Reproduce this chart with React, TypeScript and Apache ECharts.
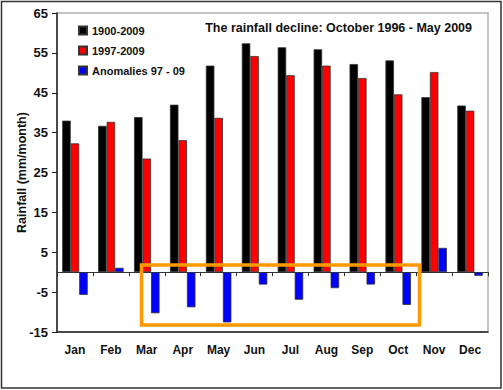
import React, { useEffect, useRef } from "react";
import * as echarts from "echarts";

const months = ["Jan", "Feb", "Mar", "Apr", "May", "Jun", "Jul", "Aug", "Sep", "Oct", "Nov", "Dec"];
const longTerm = [38.0, 36.7, 38.9, 42.0, 51.8, 57.4, 56.4, 55.9, 52.2, 53.1, 43.9, 41.8];
const recent = [32.3, 37.7, 28.5, 33.1, 38.7, 54.2, 49.4, 51.8, 48.7, 44.6, 50.2, 40.5];
const anomalies = [-5.7, 1.1, -10.3, -8.8, -12.6, -3.1, -6.9, -4.0, -3.1, -8.2, 6.1, -0.9];
const yTicks = { min: -15, max: 65, interval: 10 };
const seriesNames = ["1900-2009", "1997-2009", "Anomalies 97 - 09"];

const FONT = "Arial, 'Liberation Sans', sans-serif";

export default function App() {
  const ref = useRef<HTMLDivElement>(null);
  useEffect(() => {
    document.body.style.margin = "0";
    const chart = echarts.init(ref.current!, undefined, { renderer: "svg" });
    const barStyle = (color: string) => ({ color, borderColor: "#333", borderWidth: 0.8 });
    chart.setOption({
      animation: false,
      backgroundColor: "#fff",
      textStyle: { fontFamily: FONT },
      title: {
        text: "The rainfall decline: October 1996 - May 2009",
        right: 26,
        top: 16,
        textStyle: { fontSize: 12.5, fontWeight: "bold", color: "#111", fontFamily: FONT },
      },
      legend: {
        orient: "vertical",
        left: 73,
        top: 19,
        itemWidth: 8,
        itemHeight: 8,
        itemGap: 7,
        icon: "rect",
        data: seriesNames,
        textStyle: { fontSize: 11, fontWeight: "bold", color: "#111", fontFamily: FONT, lineHeight: 13 },
      },
      grid: {
        left: 57,
        top: 13,
        right: 15,
        bottom: 58,
        show: true,
        borderColor: "#b0b0b0",
        borderWidth: 1.5,
      },
      xAxis: [
        {
          type: "category",
          data: months,
          position: "bottom",
          axisLine: { onZero: false, lineStyle: { color: "#222", width: 1.5 } },
          axisTick: { show: false },
          axisLabel: { fontSize: 12, fontWeight: "bold", color: "#111", margin: 12, fontFamily: FONT },
        },
        {
          type: "category",
          data: months,
          position: "top",
          axisLine: { onZero: true, lineStyle: { color: "#333", width: 1 } },
          axisTick: { show: true, inside: true, length: 4, lineStyle: { color: "#333" } },
          axisLabel: { show: false },
        },
      ],
      yAxis: {
        type: "value",
        min: yTicks.min,
        max: yTicks.max,
        interval: yTicks.interval,
        name: "Rainfall (mm/month)",
        nameLocation: "middle",
        nameGap: 29,
        nameMoveOverlap: false,
        nameTextStyle: { fontSize: 12.5, fontWeight: "bold", color: "#111", fontFamily: FONT },
        axisLine: { show: true, lineStyle: { color: "#222", width: 1.5 } },
        axisTick: { show: true, length: 5, lineStyle: { color: "#222" } },
        axisLabel: { fontSize: 13, fontWeight: "bold", color: "#111", margin: 9, fontFamily: FONT },
        splitLine: { show: false },
      },
      series: [
        { name: seriesNames[0], type: "bar", data: longTerm, barWidth: 8.5, barGap: "0%", itemStyle: barStyle("#000000") },
        { name: seriesNames[1], type: "bar", data: recent, barWidth: 8.5, barGap: "0%", itemStyle: barStyle("#ff0000") },
        { name: seriesNames[2], type: "bar", data: anomalies, barWidth: 8.5, barGap: "0%", itemStyle: barStyle("#0000ff") },
      ],
      graphic: [
        {
          type: "rect",
          shape: { x: 141.5, y: 265, width: 278, height: 60 },
          style: { fill: "none", stroke: "#ff9900", lineWidth: 3.5 },
          z: 100,
        },
        {
          type: "rect",
          shape: { x: 1.5, y: 1.5, width: 499.5, height: 386.5 },
          style: { fill: "none", stroke: "#333", lineWidth: 1.5 },
          z: 100,
        },
      ],
    });
    return () => chart.dispose();
  }, []);
  return <div ref={ref} style={{ width: 503, height: 390 }} />;
}
